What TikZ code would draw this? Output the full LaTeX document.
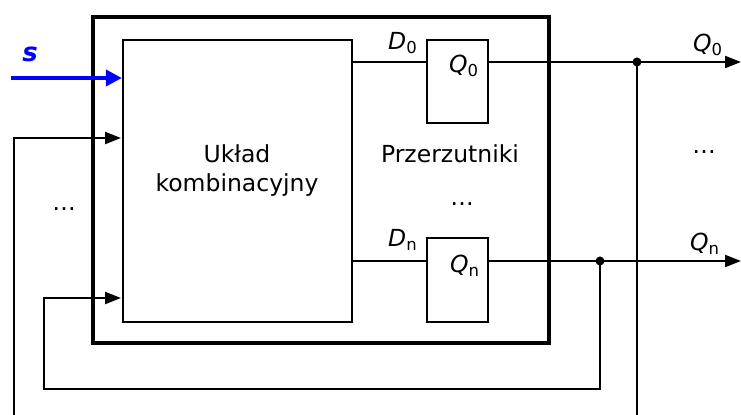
\documentclass[tikz,border=0pt]{standalone}
\usepackage{fontspec}
\setmainfont{DejaVu Sans}
\usetikzlibrary{arrows.meta,positioning,fit}

\newcommand{\sig}[2]{\textit{#1}\textsubscript{#2}}

\begin{document}
\begin{tikzpicture}[
    x=0.5pt, y=-0.5pt,
    font=\fontsize{11.75}{14.5}\selectfont,
    box/.style={rectangle, draw, line width=1.1pt, inner sep=0pt},
    bigbox/.style={rectangle, draw, line width=2pt, inner sep=0pt},
    wire/.style={line width=1.1pt},
    arr/.style={wire, -{Triangle[length=8pt,width=6pt]}},
    sarr/.style={line width=1.8pt, blue, -{Triangle[length=8pt,width=8pt]}},
    dot/.style={circle, fill, inner sep=0pt, minimum size=4.5pt},
    lbl/.style={inner sep=0pt, anchor=base}
]
    \useasboundingbox (0,0) rectangle (741,415);
    \clip (0,0) rectangle (741,415);

    \node[bigbox, fit={(93,17) (549,343)}] (chip) {};
    \node[box, fit={(123,40) (352,322)}] (comb) {};
    \node[box, fit={(427,40) (488,123)}] (ff0) {};
    \node[box, fit={(427,238) (488,322)}] (ffn) {};

    \node[lbl, align=center] (combtxt) at (237,192) {Układ\\kombinacyjny};
    \node[lbl] (fftxt) at (450,163) {Przerzutniki};
    \node[inner sep=0pt] (dotsff) at (462,204) {\dots};
    \node[inner sep=0pt] (dotsin) at (64,209) {\dots};
    \node[inner sep=0pt] (dotsout) at (704,152) {\dots};

    \node[lbl] (d0lbl) at (403,50) {\sig{D}{0}};
    \node[lbl] (dnlbl) at (403,247) {\sig{D}{n}};
    \node[lbl] (q0in) at (464,73) {\sig{Q}{0}};
    \node[lbl] (qnin) at (465,273) {\sig{Q}{n}};
    \node[lbl] (q0lbl) at (708,52) {\sig{Q}{0}};
    \node[lbl] (qnlbl) at (705,251) {\sig{Q}{n}};
    \node[lbl, blue, font=\fontsize{13}{15}\selectfont] (slbl) at (30,62) {\textbf{\textit{s}}};

    \coordinate (d0) at (427,62);
    \coordinate (dn) at (427,261);
    \coordinate (out0) at (741,62);
    \coordinate (outn) at (741,261);
    \node[dot] (j0) at (637,62) {};
    \node[dot] (jn) at (600,261) {};
    \coordinate (fb0) at (14,440);
    \coordinate (in0) at (121,138);
    \coordinate (fbn) at (44,389);
    \coordinate (inn) at (121,298);
    \coordinate (sin) at (11,78);

    \draw[wire] (comb.east |- d0) -- (d0);
    \draw[wire] (comb.east |- dn) -- (dn);
    \draw[arr] (ff0.east |- d0) -- (out0);
    \draw[arr] (ffn.east |- dn) -- (outn);
    \draw[arr] (j0.center) |- (fb0) |- (in0);
    \draw[arr] (jn.center) |- (fbn) |- (inn);
    \draw[sarr] (sin) -- (comb.west |- sin);
\end{tikzpicture}
\end{document}
